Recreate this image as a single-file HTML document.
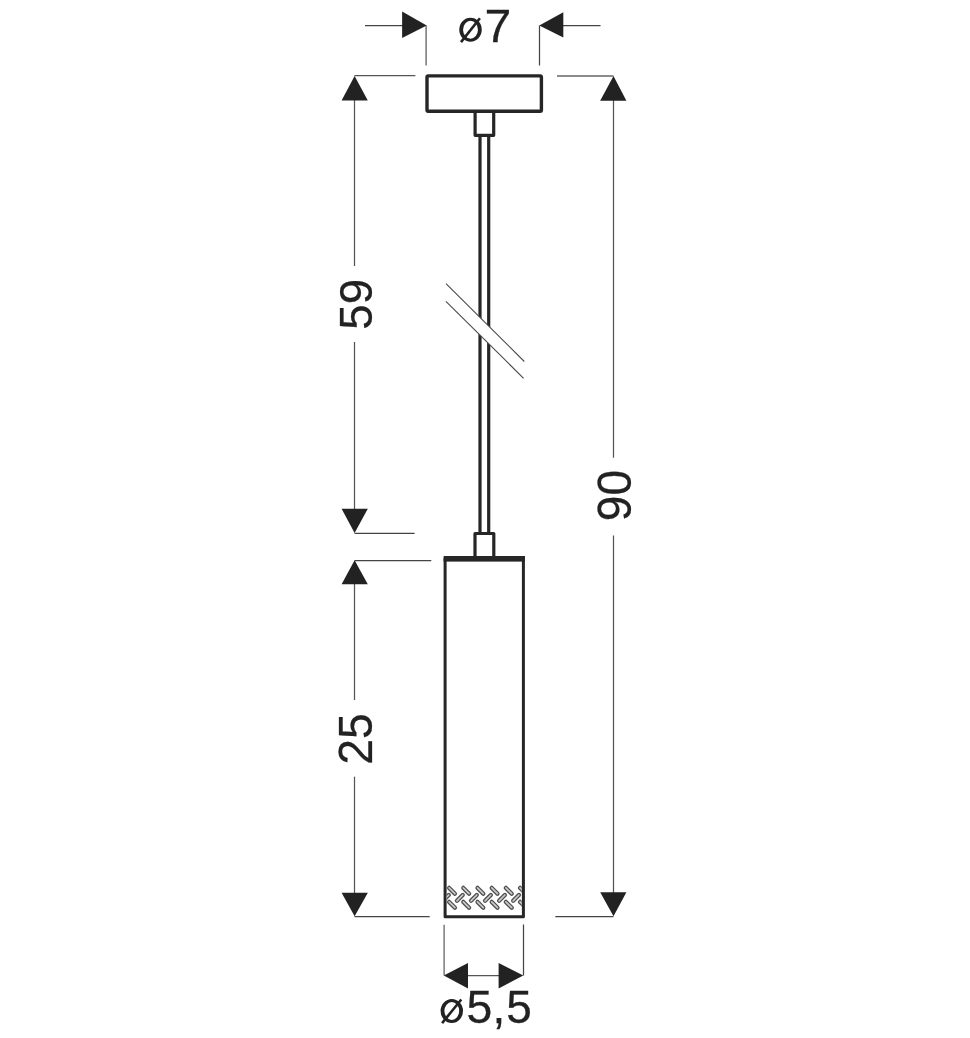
<!DOCTYPE html>
<html><head><meta charset="utf-8">
<style>
html,body{margin:0;padding:0;background:#fff;width:970px;height:1038px;overflow:hidden}
svg{display:block;will-change:transform}
text{font-family:"Liberation Sans",sans-serif;fill:#222;stroke:#222;stroke-width:0.25px}
</style></head>
<body>
<svg width="970" height="1038" viewBox="0 0 970 1038">
<rect width="970" height="1038" fill="#fff"/>
<line x1="365" y1="25.5" x2="403" y2="25.5" stroke="#444" stroke-width="1.25"/>
<line x1="426.1" y1="25.5" x2="426.1" y2="65.5" stroke="#6a6a6a" stroke-width="1.4"/>
<line x1="562" y1="25.5" x2="600.5" y2="25.5" stroke="#444" stroke-width="1.25"/>
<line x1="539.5" y1="25.5" x2="539.5" y2="65.5" stroke="#444" stroke-width="1.25"/>
<line x1="354.5" y1="75.5" x2="415.4" y2="75.5" stroke="#555" stroke-width="1.25"/>
<line x1="354.5" y1="533.4" x2="414.6" y2="533.4" stroke="#444" stroke-width="1.25"/>
<line x1="354.5" y1="560.5" x2="431.3" y2="560.5" stroke="#444" stroke-width="1.25"/>
<line x1="354.5" y1="916.5" x2="429.7" y2="916.5" stroke="#444" stroke-width="1.25"/>
<line x1="557" y1="76" x2="613.5" y2="76" stroke="#666" stroke-width="1.4"/>
<line x1="555.3" y1="916.5" x2="613.5" y2="916.5" stroke="#444" stroke-width="1.25"/>
<line x1="354.5" y1="99" x2="354.5" y2="266" stroke="#555" stroke-width="1.25"/>
<line x1="354.5" y1="342" x2="354.5" y2="510" stroke="#555" stroke-width="1.25"/>
<line x1="354.5" y1="584" x2="354.5" y2="700" stroke="#555" stroke-width="1.25"/>
<line x1="354.5" y1="776.7" x2="354.5" y2="894" stroke="#555" stroke-width="1.25"/>
<line x1="613.5" y1="99" x2="613.5" y2="457.8" stroke="#555" stroke-width="1.25"/>
<line x1="613.5" y1="535.4" x2="613.5" y2="894" stroke="#555" stroke-width="1.25"/>
<line x1="444.1" y1="924.8" x2="444.1" y2="975.5" stroke="#666" stroke-width="1.3"/>
<line x1="523.5" y1="924.5" x2="523.5" y2="975.5" stroke="#444" stroke-width="1.25"/>
<line x1="467" y1="975.5" x2="499.5" y2="975.5" stroke="#555" stroke-width="1.25"/>
<g fill="#222">
<polygon points="402.1,11.6 426.7,25.4 402.1,37.9"/>
<polygon points="563.3,12.2 539.3,25.4 563.3,37.6"/>
<polygon points="354.6,76.0 341.6,100.6 367.8,100.6"/>
<polygon points="354.6,533.0 341.6,508.8 367.8,508.8"/>
<polygon points="354.6,560.3 341.6,584.2 367.8,584.2"/>
<polygon points="354.6,916.3 341.6,892.8 367.8,892.8"/>
<polygon points="613.5,76.1 600.2,100.7 626.4,100.7"/>
<polygon points="613.5,916.3 600.2,892.2 626.4,892.2"/>
<polygon points="443.8,975.4 468,963 468,988.4"/>
<polygon points="523.3,975.4 498.6,963 498.6,988.4"/>
</g>
<g stroke="#262626" fill="none" stroke-linejoin="round">
<rect x="427" y="75.9" width="114.4" height="35.4" rx="1.2" stroke-width="3.4"/>
<path d="M475.1,111.3 V135.3 H493.7 V111.3" stroke-width="3.2"/>
<line x1="480" y1="135" x2="480" y2="533.5" stroke-width="3.2"/>
<line x1="488.7" y1="135" x2="488.7" y2="533.5" stroke-width="3.2"/>
<path d="M475.0,558 V533.5 H493.8 V558" stroke-width="3.2"/>
<path d="M445.1,558 V916.7 H523.4 V558" stroke-width="3.0"/>
</g>
<rect x="443.6" y="556" width="81.4" height="5.6" fill="#262626"/>
<polygon points="446.0,283.7 524.3,361.5 523.6,378.3 445.9,301.4" fill="#fff"/>
<line x1="446.0" y1="283.7" x2="524.3" y2="361.5" stroke="#4a4a4a" stroke-width="1.1"/>
<line x1="445.9" y1="301.4" x2="523.6" y2="378.3" stroke="#4a4a4a" stroke-width="1.1"/>
<defs><clipPath id="sc"><rect x="446.6" y="870" width="75.2" height="45"/></clipPath></defs>
<g clip-path="url(#sc)" stroke-linecap="round">
<line x1="449.10" y1="887.90" x2="454.90" y2="893.70" stroke="#505050" stroke-width="4.3"/>
<line x1="449.10" y1="887.90" x2="454.90" y2="893.70" stroke="#cacaca" stroke-width="1.7"/>
<line x1="449.10" y1="901.90" x2="454.90" y2="907.70" stroke="#505050" stroke-width="4.3"/>
<line x1="449.10" y1="901.90" x2="454.90" y2="907.70" stroke="#cacaca" stroke-width="1.7"/>
<line x1="442.90" y1="900.80" x2="448.70" y2="895.00" stroke="#505050" stroke-width="4.3"/>
<line x1="442.90" y1="900.80" x2="448.70" y2="895.00" stroke="#cacaca" stroke-width="1.7"/>
<line x1="463.30" y1="887.90" x2="469.10" y2="893.70" stroke="#505050" stroke-width="4.3"/>
<line x1="463.30" y1="887.90" x2="469.10" y2="893.70" stroke="#cacaca" stroke-width="1.7"/>
<line x1="463.30" y1="901.90" x2="469.10" y2="907.70" stroke="#505050" stroke-width="4.3"/>
<line x1="463.30" y1="901.90" x2="469.10" y2="907.70" stroke="#cacaca" stroke-width="1.7"/>
<line x1="456.95" y1="900.80" x2="462.75" y2="895.00" stroke="#505050" stroke-width="4.3"/>
<line x1="456.95" y1="900.80" x2="462.75" y2="895.00" stroke="#cacaca" stroke-width="1.7"/>
<line x1="477.50" y1="887.90" x2="483.30" y2="893.70" stroke="#505050" stroke-width="4.3"/>
<line x1="477.50" y1="887.90" x2="483.30" y2="893.70" stroke="#cacaca" stroke-width="1.7"/>
<line x1="477.50" y1="901.90" x2="483.30" y2="907.70" stroke="#505050" stroke-width="4.3"/>
<line x1="477.50" y1="901.90" x2="483.30" y2="907.70" stroke="#cacaca" stroke-width="1.7"/>
<line x1="471.00" y1="900.80" x2="476.80" y2="895.00" stroke="#505050" stroke-width="4.3"/>
<line x1="471.00" y1="900.80" x2="476.80" y2="895.00" stroke="#cacaca" stroke-width="1.7"/>
<line x1="491.70" y1="887.90" x2="497.50" y2="893.70" stroke="#505050" stroke-width="4.3"/>
<line x1="491.70" y1="887.90" x2="497.50" y2="893.70" stroke="#cacaca" stroke-width="1.7"/>
<line x1="491.70" y1="901.90" x2="497.50" y2="907.70" stroke="#505050" stroke-width="4.3"/>
<line x1="491.70" y1="901.90" x2="497.50" y2="907.70" stroke="#cacaca" stroke-width="1.7"/>
<line x1="485.05" y1="900.80" x2="490.85" y2="895.00" stroke="#505050" stroke-width="4.3"/>
<line x1="485.05" y1="900.80" x2="490.85" y2="895.00" stroke="#cacaca" stroke-width="1.7"/>
<line x1="505.90" y1="887.90" x2="511.70" y2="893.70" stroke="#505050" stroke-width="4.3"/>
<line x1="505.90" y1="887.90" x2="511.70" y2="893.70" stroke="#cacaca" stroke-width="1.7"/>
<line x1="505.90" y1="901.90" x2="511.70" y2="907.70" stroke="#505050" stroke-width="4.3"/>
<line x1="505.90" y1="901.90" x2="511.70" y2="907.70" stroke="#cacaca" stroke-width="1.7"/>
<line x1="499.10" y1="900.80" x2="504.90" y2="895.00" stroke="#505050" stroke-width="4.3"/>
<line x1="499.10" y1="900.80" x2="504.90" y2="895.00" stroke="#cacaca" stroke-width="1.7"/>
<line x1="520.10" y1="887.90" x2="525.90" y2="893.70" stroke="#505050" stroke-width="4.3"/>
<line x1="520.10" y1="887.90" x2="525.90" y2="893.70" stroke="#cacaca" stroke-width="1.7"/>
<line x1="520.10" y1="901.90" x2="525.90" y2="907.70" stroke="#505050" stroke-width="4.3"/>
<line x1="520.10" y1="901.90" x2="525.90" y2="907.70" stroke="#cacaca" stroke-width="1.7"/>
<line x1="513.15" y1="900.80" x2="518.95" y2="895.00" stroke="#505050" stroke-width="4.3"/>
<line x1="513.15" y1="900.80" x2="518.95" y2="895.00" stroke="#cacaca" stroke-width="1.7"/>
</g>
<path d="M459.25,29.75 a11.25,11.9 0 1,0 22.5,0 a11.25,11.9 0 1,0 -22.5,0 Z M463.05,29.75 a7.45,8.9 0 1,0 14.9,0 a7.45,8.9 0 1,0 -14.9,0 Z" fill="#222" fill-rule="evenodd"/>
<path d="M440.6,1011 a11.2,11.95 0 1,0 22.4,0 a11.2,11.95 0 1,0 -22.4,0 Z M444.40000000000003,1011 a7.4,8.95 0 1,0 14.8,0 a7.4,8.95 0 1,0 -14.8,0 Z" fill="#222" fill-rule="evenodd"/>
<g fill="none" stroke="#222" stroke-width="2.6">
<line x1="461.0" y1="42.1" x2="479.9" y2="18.2"/>
<line x1="442.1" y1="1023.1" x2="461.3" y2="999.5"/>
</g>
<text transform="translate(484.53,41.7) scale(1.042,1)" font-size="46.22">7</text>
<text transform="translate(466.44,1022.65) scale(1.012,1)" font-size="45.86">5</text>
<text transform="translate(492.5,1022.65)" font-size="45.86">,</text>
<text transform="translate(506.26,1022.65) scale(1.0026,1)" font-size="45.86">5</text>
<text transform="translate(371.85,329.72) rotate(-90) scale(0.9765,1)" font-size="46.8">59</text>
<text transform="translate(371.54,764.73) rotate(-90) scale(0.983,1)" font-size="47.17">25</text>
<text transform="translate(630.53,521.16) rotate(-90) scale(0.967,1)" font-size="47.74">90</text>
</svg>
</body></html>
